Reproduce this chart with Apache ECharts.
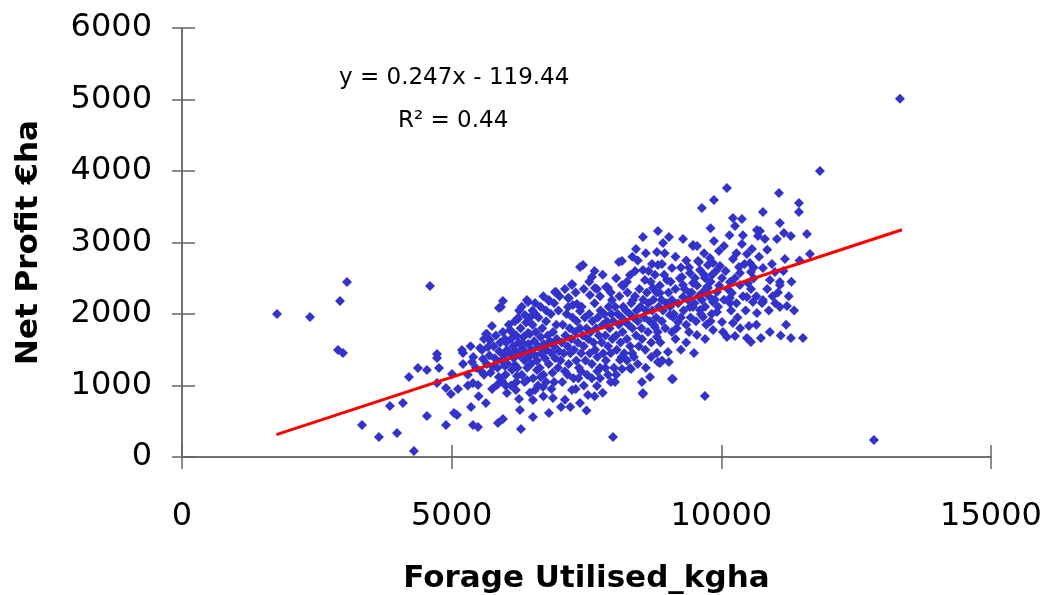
<!DOCTYPE html>
<html>
<head>
<meta charset="utf-8">
<title>Net Profit vs Forage Utilised</title>
<script src="https://cdn.jsdelivr.net/npm/echarts@6.0.0/dist/echarts.min.js"></script>
<style>
  html, body { margin: 0; padding: 0; background: #fff; }
  #chart { width: 1047px; height: 595px; }
</style>
</head>
<body>
<div id="chart"></div>
<script>
// data: [forage kg/ha, net profit €/ha]
const outliersLeft = [
  [1761,2000],[2373,1959],[2930,2183],[3059,2448],[2892,1497],[2985,1455],[3337,448],[3652,280],
  [3986,336],[3856,713],[4097,755],[4301,84],[4598,2392],[4542,573],[4209,1119],[4375,1245],
  [4542,1217],[4728,1441],[4728,1385],[4765,1245],[4728,1035],[4895,965],[4987,881],[4895,448]
];

const cloud5k = [
  [5117,951],[5006,1161],[5043,615],[5099,587],[5191,1497],[5210,1455],[5210,1301],[5358,699],
  [5395,448],[5488,420],[5636,755],[5377,1329],[5395,1035],[5488,1007],[5562,1497],[5580,1371],
  [5655,1721],[5673,1539],[5747,1833],[5710,1637],[5766,1259],[5840,1007],[5877,1119],[5933,1063],
  [5858,476],[5951,531],[5988,1651],[5914,2099],[5951,2183],[6025,1497],[5988,1273],[6025,895],
  [6118,1749],[6173,1287],[6211,1133],[6192,937],[6248,811],[6266,657],[6285,392],[6229,1945],
  [6359,1987],[6396,2196],[6415,1735],[6322,1595],[6507,797],[6507,559],[6545,937],[6582,1217],
  [6396,1077],[5877,2084],[6415,2168],[6545,2154],[6804,2196],[6229,1931],[6081,1777],[5636,1721],
  [5525,1525],[6804,615],[7027,699],[6878,825],[6693,979],[6934,2308],[6915,2308],[6804,2182],
  [5600,1150],[5650,1300],[5700,1420],[5720,1180],[5780,1550],[5800,1380],[5820,1700],[5850,1250],
  [5880,1480],[5900,1600],[5920,1350],[5950,1750],[5970,1420],[6000,1150],[6010,1600],[6040,1300],
  [6060,1850],[6080,1450],[6100,1650],[6120,1220],[6140,1550],[6150,1380],[6170,1900],[6190,1480],
  [6200,1700],[6220,1250],[6240,1600],[6260,1420],[6280,1800],[6300,1150],[6310,1520],[6330,1680],
  [6350,1350],[6370,1450],[6380,1880],[6400,1250],[6420,1580],[6440,1400],[6450,1720],[6470,1300],
  [6480,1500],[6500,1850],[6510,1100],[6530,1620],[6550,1420],[6560,1750],[6580,1350],[6600,1550],
  [6610,1950],[6630,1250],[6650,1680],[6660,1450],[6680,1800],[6700,1150],[6710,1580],[6730,1380],
  [6750,1900],[6760,1500],[6780,1700],[6800,1300],[6820,1620],[6840,2000],[6850,1450],[6870,1180],
  [6880,1750],[6900,1550],[6920,1380],[6940,1850],[6950,1650],[6970,1250],[6980,2050],[6990,1480],
  [6100,1000],[6350,1050],[6600,1000],[6700,850],[6450,900],[6900,1050],[6650,1120],[6200,1050],
  [5750,950],[5550,1200],[5450,1250],[5300,1150],[5500,850],[5300,1000],[6000,1000],[6750,1050],
  [6850,950],[5400,1400],[5350,1550],[5600,1650],
  [6250,2050],[6500,2050],[6650,2100],[6700,2250],[6450,1950],[6900,2150],[6300,2100],[6750,2050],[6550,2000]
];

const cloud7k = [
  [7231,937],[7379,755],[7527,867],[7694,993],[8028,1049],[8121,1357],[8306,1245],[8528,1049],
  [8547,895],[8677,1119],[8825,1329],[8806,1455],[9010,1469],[7231,2420],[7157,2224],[7249,2126],
  [7657,2364],[7879,2378],[8158,2406],[7379,2658],[7435,2686],[7601,2518],[7231,2406],[7694,2350],
  [7861,2378],[8102,2728],[7175,2224],[7323,2140],[7157,2098],[7379,2042],[7564,2266],[7991,280],
  [8547,881],[8158,1231],[8325,1231],[8862,1315],[8825,3161],[8547,3077],[8418,2909],[8806,2867],
  [8918,2993],[8158,2742],[8547,2616],[8714,2700],[8825,2686],[8306,2546],[8584,2476],[8992,2476],
  [7900,2364],[8180,2392],[8732,2364],[8862,2294],[7972,2196],[8362,2196],[8769,1819],[8806,1679],
  [7020,1350],[7040,1600],[7060,1850],[7080,1450],[7100,1200],[7110,1700],[7130,2000],[7150,1550],
  [7170,1300],[7190,1800],[7200,1450],[7220,1650],[7240,1950],[7260,1100],[7270,1500],[7290,1750],
  [7310,1350],[7320,1900],[7340,1600],[7360,1250],[7380,1800],[7400,1450],[7410,2100],[7430,1700],
  [7450,1550],[7470,1950],[7480,1350],[7500,1800],[7510,1150],[7530,1650],[7550,2000],[7560,1450],
  [7580,1750],[7600,1300],[7610,1900],[7630,1600],[7650,2150],[7660,1500],[7680,1800],[7700,1400],
  [7710,1950],[7730,1700],[7750,1250],[7760,2050],[7780,1600],[7800,1850],[7810,1450],[7830,2000],
  [7850,1700],[7860,1350],[7880,1900],[7900,1550],[7910,2100],[7930,1800],[7950,1450],[7960,2000],
  [7980,1650],[8000,1900],[8010,1250],[8030,2100],[8050,1700],[8060,1500],[8080,2000],[8100,1850],
  [8110,2250],[8130,1600],[8150,1950],[8170,1750],[8180,2100],[8200,1450],[8210,1900],[8230,2050],
  [8250,1650],[8260,2300],[8280,1850],[8300,2000],[8310,1550],[8330,2150],[8350,1800],[8370,1950],
  [8380,1400],[8400,2250],[8420,1700],[8430,2050],[8450,1900],[8470,1550],[8480,2350],[8500,2100],
  [8520,1800],[8530,1650],[8550,2200],[8570,1950],[8590,1500],[8600,2050],[8620,2300],[8640,1750],
  [8650,2150],[8670,1900],[8690,2450],[8700,1600],[8720,2050],[8740,2200],[8750,1850],[8770,2550],
  [8790,1950],[8800,2300],[8820,1750],[8840,2100],[8860,2400],[8870,1600],[8890,2200],[8900,1900],
  [8920,2050],[8940,2550],[8960,1800],[8980,2150],
  [7050,1050],[7100,800],[7150,1150],[7300,950],[7350,1100],[7450,1000],[7500,650],[7600,1100],
  [7650,850],[7750,1100],[7800,900],[7900,1150],[7950,1050],[7200,700],[7400,1200],[7700,1200],
  [7850,1250],[8050,1150],[8250,1350],[8450,1300],[8600,1250],[8700,1400],[8900,1350],[8350,1450],[8150,1400],
  [7000,2250],[7100,2350],[7300,2300],[7450,2350],[7550,2450],[7750,2250],[7950,2300],[8050,2500],
  [8250,2450],[8400,2600],[8450,2750],[8650,2600],[8900,2700],[8950,2850],[8600,2850],[8350,2800],
  [7800,2550],[7650,2600]
];

const cloud9k = [
  [9084,1091],[9103,1091],[9029,1329],[9493,1455],[9696,853],[9289,3049],[9863,3021],[9475,2951],
  [9956,2881],[9567,2742],[9789,2784],[9845,2714],[9975,2672],[9418,2574],[9604,2616],[9752,2686],
  [9511,2504],[9696,2504],[9826,2546],[10012,2504],[10160,2448],[10345,2406],[9289,2406],[9418,2294],
  [9752,2364],[9919,2308],[10197,2294],[10160,2154],[9845,2168],[9640,2196],[9475,2098],[9640,3483],
  [9863,3595],[10104,3763],[9029,3077],[9475,2965],[9084,2644],[9270,2518],[9585,2728],[9475,2434],
  [9289,2238],[9733,2378],[10160,2224],[9084,2196],[9418,2098],[9604,2056],[9919,2028],[9660,1959],
  [9103,1959],[9047,1987],[9196,1889],[10012,1889],[9845,1777],[10215,1875],[9084,1749],[9548,1707],
  [10104,1679],[10030,1749],[10253,1693],[10475,1665],[10215,3343],[10382,3329],[10253,3231],[10660,3175],
  [10679,3091],[10809,3049],[10382,2979],[10568,2909],[10475,2839],[10215,2770],[10531,2714],[10771,2644],
  [10938,2700],[10327,2658],[10345,2574],[10549,2588],[10494,2434],[10753,2154],[10475,2238],[10586,2168],
  [10771,2168],[10660,2014],[10512,1833],[10549,1609],[10734,1665],[10771,3427],[10716,3161],[10901,2476],
  [10994,2588],[10771,2196],
  [9020,2300],[9050,2100],[9060,2450],[9120,2000],[9150,2350],[9170,1800],[9200,2150],[9230,2500],
  [9250,1950],[9300,2050],[9320,2350],[9350,1850],[9380,2200],[9400,2650],[9430,1950],[9450,2300],
  [9500,2150],[9530,1900],[9550,2400],[9580,2250],[9620,2000],[9650,2300],[9680,2550],[9700,2100],
  [9720,1850],[9770,2250],[9800,2450],[9820,2000],[9880,2200],[9900,2600],[9940,2100],[9960,2400],
  [9150,1650],[9350,1600],[9250,1500],[9400,1750],[9700,1650],[9800,1900],[9150,2800],[9350,2750],
  [9550,2950],[9800,3200],[9250,2650],[9680,2850],
  [10050,2200],[10080,2600],[10120,2350],[10180,2050],[10250,2500],[10280,2150],[10300,1950],[10400,2250],
  [10430,2700],[10450,2050],[10550,2350],[10600,2500],[10650,2250],[10700,2800],[10850,2350],[10880,2050],
  [10950,2250],[10050,2950],[10280,2850],[10600,2650],[10150,3100],[10400,3100],[10850,2900],[10350,1800],
  [10650,1850],[10900,1750]
];

const cloud11k = [
  [11086,2098],[11216,2112],[11290,1665],[11513,1665],[11068,3693],[11439,3553],[11439,3427],[11086,3273],
  [11031,3049],[11161,3133],[11290,3091],[11587,3119],[11643,2839],[11179,2770],[11086,2448],[11086,2406],
  [11050,2300],[11150,2600],[11250,2250],[11300,2450],[11000,2150],[11200,1850],[11350,2050],[11100,1700],
  [11450,2750]
];

const outliersRight = [[11828,4001],[13312,5009],[12829,238]];

// linear trend y = 0.247x - 119.44, drawn between the extreme x values
const trendLine = [[1750,313],[13350,3178]];

const xTicks = { min: 0, max: 15000, interval: 5000 };
const yTicks = { min: 0, max: 6000, interval: 1000 };

const equationText = 'y = 0.247x - 119.44';
const rSquaredText = 'R\u00B2 = 0.44';

const font = 'DejaVu Sans';
const points = [].concat(outliersLeft, cloud5k, cloud7k, cloud9k, cloud11k, outliersRight);

const chart = echarts.init(document.getElementById('chart'));

const axisLine = { show: true, onZero: false, lineStyle: { color: '#444', width: 1.5 } };
const tickStyle = { color: '#666', width: 1.5 };
const plain = v => String(v);

chart.setOption({
  animation: false,
  backgroundColor: '#fff',
  grid: { left: 182, right: 56, top: 28, bottom: 138, outerBoundsMode: 'none', containLabel: false },
  xAxis: [
    {
      type: 'value', position: 'bottom', ...xTicks,
      axisLine: axisLine,
      axisTick: { show: true, length: 12, lineStyle: tickStyle },
      axisLabel: { margin: 44, color: '#000', fontSize: 32, fontFamily: font, formatter: plain },
      splitLine: { show: false },
      name: 'Forage Utilised_kgha', nameLocation: 'middle', nameGap: 106,
      nameTextStyle: { fontSize: 31, fontWeight: 'bold', fontFamily: font, color: '#000' }
    },
    {
      // inner half of the crossing ticks
      type: 'value', position: 'bottom', ...xTicks,
      axisLine: { show: false },
      axisTick: { show: true, inside: true, length: 12, lineStyle: tickStyle },
      axisLabel: { show: false },
      splitLine: { show: false }
    }
  ],
  yAxis: [
    {
      type: 'value', position: 'left', ...yTicks,
      axisLine: axisLine,
      axisTick: { show: true, length: 10, lineStyle: tickStyle },
      axisLabel: { margin: 30, color: '#000', fontSize: 32, fontFamily: font, formatter: plain },
      splitLine: { show: false },
      name: 'Net Profit €ha', nameLocation: 'middle', nameGap: 138, nameRotate: 90,
      nameTextStyle: { fontSize: 31, fontWeight: 'bold', fontFamily: font, color: '#000' }
    },
    {
      type: 'value', position: 'left', ...yTicks,
      axisLine: { show: false },
      axisTick: { show: true, inside: true, length: 13, lineStyle: tickStyle },
      axisLabel: { show: false },
      splitLine: { show: false }
    }
  ],
  graphic: [
    {
      type: 'text', left: 339, top: 67,
      style: { text: equationText, font: '23px "DejaVu Sans"', fill: '#000' }
    },
    {
      type: 'text', left: 398, top: 110,
      style: { text: rSquaredText, font: '23px "DejaVu Sans"', fill: '#000' }
    }
  ],
  series: [
    {
      type: 'scatter',
      xAxisIndex: 0, yAxisIndex: 0,
      symbol: 'diamond', symbolSize: 10,
      itemStyle: { color: '#3333cc', opacity: 1 },
      data: points
    },
    {
      type: 'line',
      xAxisIndex: 0, yAxisIndex: 0,
      symbol: 'none',
      lineStyle: { color: '#ff0000', width: 3 },
      data: trendLine
    }
  ]
});
</script>
</body>
</html>
